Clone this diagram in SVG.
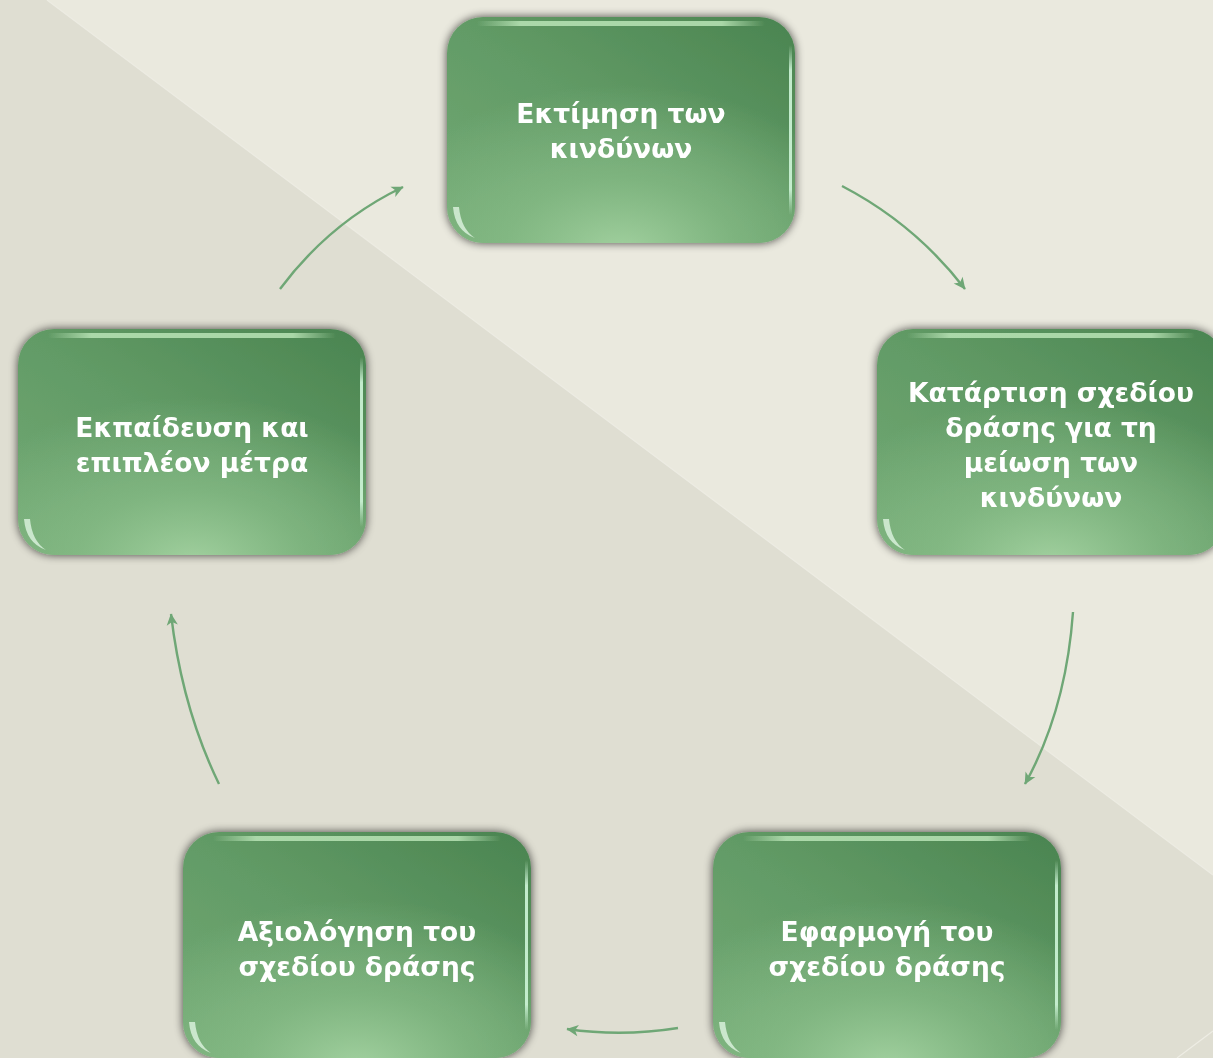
<svg xmlns="http://www.w3.org/2000/svg" width="1213" height="1058" viewBox="0 0 1213 1058">
<defs>
  <linearGradient id="base" x1="1" y1="0" x2="0" y2="1">
    <stop offset="0" stop-color="#4A8450"/>
    <stop offset="0.5" stop-color="#629B66"/>
    <stop offset="1" stop-color="#73AA75"/>
  </linearGradient>
  <radialGradient id="glow" cx="0.5" cy="1.05" r="0.75" fx="0.5" fy="1.05">
    <stop offset="0" stop-color="#A6D4A3" stop-opacity="0.95"/>
    <stop offset="0.45" stop-color="#8EC28D" stop-opacity="0.6"/>
    <stop offset="1" stop-color="#8EC28D" stop-opacity="0"/>
  </radialGradient>
  <linearGradient id="topHi" x1="0" y1="0" x2="1" y2="0">
    <stop offset="0" stop-color="#B9E4B6" stop-opacity="0"/>
    <stop offset="0.15" stop-color="#B9E4B6" stop-opacity="0.85"/>
    <stop offset="0.85" stop-color="#B9E4B6" stop-opacity="0.85"/>
    <stop offset="1" stop-color="#B9E4B6" stop-opacity="0"/>
  </linearGradient>
  <linearGradient id="sideHi" x1="0" y1="0" x2="0" y2="1">
    <stop offset="0" stop-color="#C8F0D2" stop-opacity="0"/>
    <stop offset="0.15" stop-color="#C8F0D2" stop-opacity="0.95"/>
    <stop offset="0.85" stop-color="#C8F0D2" stop-opacity="0.95"/>
    <stop offset="1" stop-color="#C8F0D2" stop-opacity="0"/>
  </linearGradient>
  <filter id="shadow" x="-10%" y="-10%" width="120%" height="120%">
    <feGaussianBlur in="SourceAlpha" stdDeviation="5"/>
    <feComponentTransfer><feFuncA type="linear" slope="0.7"/></feComponentTransfer>
    <feMerge><feMergeNode/><feMergeNode in="SourceGraphic"/></feMerge>
  </filter>
  <marker id="ah" viewBox="0 0 12 12" refX="10" refY="6" markerWidth="15" markerHeight="15" markerUnits="userSpaceOnUse" orient="auto">
    <path d="M1,1.5 L10.5,6 L1,10.5 L3.5,6 Z" fill="#6FA776"/>
  </marker>
  <g id="box">
    <rect width="348" height="226" rx="36" fill="url(#base)"/>
    <rect width="348" height="226" rx="36" fill="url(#glow)"/>
    <rect x="30" y="4" width="288" height="5" rx="2.5" fill="url(#topHi)"/>
    <rect x="342" y="28" width="3" height="170" rx="1.5" fill="url(#sideHi)"/>
    <path d="M6,190 Q8,214 28,221 Q14,212 12,190 Z" fill="#D8F0DA" opacity="0.85"/>
  </g>
</defs>
<style>
  .lbl { font-family: "DejaVu Sans", "Noto Sans", sans-serif; font-weight: bold; font-size: 26.5px; fill: #FFFFFF; text-anchor: middle; }
  .conn { fill: none; stroke: #6FA776; stroke-width: 2.4; marker-end: url(#ah); }
</style>
<rect width="1213" height="1058" fill="#EAE9DE"/>
<polygon points="0,0 47,0 1213,875 1213,1058 0,1058" fill="#DFDED2"/>
<line x1="47" y1="0" x2="1213" y2="875" stroke="#EDECE3" stroke-width="1.2"/>
<line x1="1177" y1="1058" x2="1213" y2="1031" stroke="#EEEDE4" stroke-width="1.2"/>

<g id="connectors">
  <path class="conn" d="M280,289 Q330,222 403,187"/>
  <path class="conn" d="M842,186 Q915,224 965,289"/>
  <path class="conn" d="M1073,612 Q1066,710 1025,784"/>
  <path class="conn" d="M678,1028 Q622,1037 567,1029"/>
  <path class="conn" d="M219,784 Q182,708 171,614"/>
</g>

<g id="node-risk-assessment" filter="url(#shadow)">
  <use href="#box" x="447" y="17"/>
  <text class="lbl" x="621" y="123">Εκτίμηση των</text>
  <text class="lbl" x="621" y="158">κινδύνων</text>
</g>
<g id="node-action-plan" filter="url(#shadow)">
  <use href="#box" x="877" y="329"/>
  <text class="lbl" x="1051" y="402">Κατάρτιση σχεδίου</text>
  <text class="lbl" x="1051" y="437">δράσης για τη</text>
  <text class="lbl" x="1051" y="472">μείωση των</text>
  <text class="lbl" x="1051" y="507">κινδύνων</text>
</g>
<g id="node-implementation" filter="url(#shadow)">
  <use href="#box" x="713" y="832"/>
  <text class="lbl" x="887" y="941">Εφαρμογή του</text>
  <text class="lbl" x="887" y="976">σχεδίου δράσης</text>
</g>
<g id="node-evaluation" filter="url(#shadow)">
  <use href="#box" x="183" y="832"/>
  <text class="lbl" x="357" y="941">Αξιολόγηση του</text>
  <text class="lbl" x="357" y="976">σχεδίου δράσης</text>
</g>
<g id="node-training" filter="url(#shadow)">
  <use href="#box" x="18" y="329"/>
  <text class="lbl" x="192" y="437">Εκπαίδευση και</text>
  <text class="lbl" x="192" y="472">επιπλέον μέτρα</text>
</g>
</svg>
